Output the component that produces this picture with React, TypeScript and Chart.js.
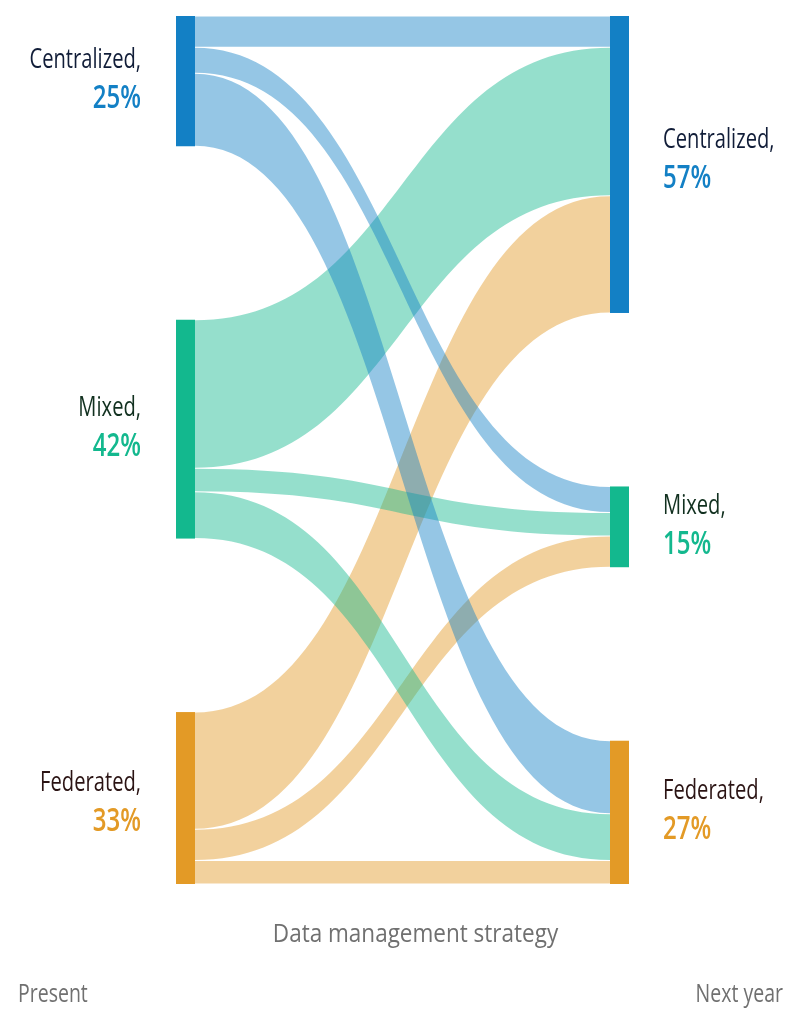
import { useEffect, useRef } from 'react';
import { Chart, registerables } from 'chart.js';

Chart.register(...registerables);

// Nodes (same order on both sides)
const categories = ['Centralized', 'Mixed', 'Federated'];
const presentShare = [25, 42, 33];
const nextYearShare = [57, 15, 27];

// Flows: rows = present category, columns = next-year category (% of respondents)
const fromCentralized = [6, 5, 14];
const fromMixed = [28.5, 4.5, 9];
const fromFederated = [22.5, 6, 4.5];
const flows = [fromCentralized, fromMixed, fromFederated];

const nodeColors = ['#1380c5', '#13b88e', '#e39a26'];
const nameColors = ['#111d38', '#11301f', '#2b1414'];

const axisTitle = 'Data management strategy';
const leftTitle = 'Present';
const rightTitle = 'Next year';

const GAP = 33.3; // vertical gap between nodes, in value units
const NODE_W = 19;
const FONT = '"Open Sans", "Noto Sans", sans-serif';
// small vertical nudges of the labels (px)
const leftNudge = [0, 0, 6];
const rightNudge = [-3, 0, 0];

const sum = (a: number[]) => a.reduce((s, v) => s + v, 0);

function nodeStarts(heights: number[]) {
  const out: number[] = [];
  let y = 0;
  heights.forEach(h => {
    out.push(y);
    y += h + GAP;
  });
  return out;
}

// condensed look: no narrow font installed, so squeeze horizontally
function squeezed(
  ctx: CanvasRenderingContext2D,
  text: string,
  x: number,
  y: number,
  align: CanvasTextAlign,
  font: string,
  color: string,
  sx: number
) {
  ctx.save();
  ctx.font = font;
  ctx.fillStyle = color;
  ctx.textAlign = align;
  ctx.textBaseline = 'alphabetic';
  ctx.translate(x, y);
  ctx.scale(sx, 1);
  ctx.fillText(text, 0, 0);
  ctx.restore();
}

const sankeyPlugin = {
  id: 'sankey',
  afterDatasetsDraw(chart: Chart) {
    const { ctx } = chart;
    const xs = chart.scales.x;
    const ys = chart.scales.y;
    const n = categories.length;

    const leftH = flows.map(r => sum(r));
    const rightH = categories.map((_, j) => sum(flows.map(r => r[j])));
    const leftY = nodeStarts(leftH);
    const rightY = nodeStarts(rightH);

    const xL = xs.getPixelForValue(0);
    const xR = xs.getPixelForValue(1);
    const x0 = xL + NODE_W;
    const x1 = xR - NODE_W;
    const xm = (x0 + x1) / 2;

    // offsets of each flow inside its nodes
    const outOff: number[][] = [];
    const inOff: number[][] = [];
    for (let i = 0; i < n; i++) {
      outOff.push([]);
      inOff.push([]);
      let o = leftY[i];
      for (let j = 0; j < n; j++) {
        outOff[i].push(o);
        o += flows[i][j];
      }
    }
    for (let j = 0; j < n; j++) {
      let o = rightY[j];
      for (let i = 0; i < n; i++) {
        inOff[i][j] = o;
        o += flows[i][j];
      }
    }

    ctx.save();
    // flows: last source first so blue ends on top
    for (let i = n - 1; i >= 0; i--) {
      for (let j = 0; j < n; j++) {
        const v = flows[i][j];
        const a0 = ys.getPixelForValue(outOff[i][j]) + 0.5;
        const a1 = ys.getPixelForValue(outOff[i][j] + v) - 0.5;
        const b0 = ys.getPixelForValue(inOff[i][j]) + 0.5;
        const b1 = ys.getPixelForValue(inOff[i][j] + v) - 0.5;
        ctx.beginPath();
        ctx.moveTo(x0, a0);
        ctx.bezierCurveTo(xm, a0, xm, b0, x1, b0);
        ctx.lineTo(x1, b1);
        ctx.bezierCurveTo(xm, b1, xm, a1, x0, a1);
        ctx.closePath();
        ctx.globalAlpha = 0.45;
        ctx.fillStyle = nodeColors[i];
        ctx.fill();
      }
    }
    ctx.globalAlpha = 1;

    // nodes
    for (let i = 0; i < n; i++) {
      ctx.fillStyle = nodeColors[i];
      const t = ys.getPixelForValue(leftY[i]);
      const b = ys.getPixelForValue(leftY[i] + leftH[i]);
      ctx.fillRect(xL, t, NODE_W, b - t);
      const t2 = ys.getPixelForValue(rightY[i]);
      const b2 = ys.getPixelForValue(rightY[i] + rightH[i]);
      ctx.fillRect(x1, t2, NODE_W, b2 - t2);
    }
    ctx.restore();

    // labels
    const nameFont = `28px ${FONT}`;
    const pctFont = `600 32px ${FONT}`;
    for (let i = 0; i < n; i++) {
      const cl = (ys.getPixelForValue(leftY[i]) + ys.getPixelForValue(leftY[i] + leftH[i])) / 2 + leftNudge[i];
      const cr = (ys.getPixelForValue(rightY[i]) + ys.getPixelForValue(rightY[i] + rightH[i])) / 2 + rightNudge[i];
      squeezed(ctx, categories[i] + ',', xL - 35, cl - 13, 'right', nameFont, nameColors[i], 0.72);
      squeezed(ctx, presentShare[i] + '%', xL - 35, cl + 27, 'right', pctFont, nodeColors[i], 0.75);
      squeezed(ctx, categories[i] + ',', xR + 34, cr - 13, 'left', nameFont, nameColors[i], 0.72);
      squeezed(ctx, nextYearShare[i] + '%', xR + 34, cr + 27, 'left', pctFont, nodeColors[i], 0.75);
    }

    // titles
    const yBottom = ys.getPixelForValue(ys.max);
    const grayFont = `25px ${FONT}`;
    squeezed(ctx, axisTitle, (xL + xR) / 2 + 13, yBottom + 58, 'center', grayFont, '#707070', 0.9);
    squeezed(ctx, leftTitle, 18, yBottom + 118, 'left', grayFont, '#707070', 0.78);
    squeezed(ctx, rightTitle, chart.width - 17, yBottom + 118, 'right', grayFont, '#707070', 0.78);
  },
};

export default function App() {
  const canvasRef = useRef<HTMLCanvasElement | null>(null);
  const chartRef = useRef<Chart | null>(null);

  useEffect(() => {
    if (!canvasRef.current) return;
    if (chartRef.current) chartRef.current.destroy();

    const yMax = sum(presentShare) + GAP * (categories.length - 1);

    chartRef.current = new Chart(canvasRef.current, {
      type: 'scatter',
      data: { datasets: [{ data: [] }] },
      options: {
        animation: false,
        responsive: true,
        maintainAspectRatio: false,
        layout: { padding: { left: 176, right: 171, top: 16, bottom: 144 } },
        plugins: { legend: { display: false }, tooltip: { enabled: false } },
        scales: {
          x: { type: 'linear', min: 0, max: 1, display: false },
          y: { type: 'linear', min: 0, max: yMax, reverse: true, display: false },
        },
      },
      plugins: [sankeyPlugin],
    });

    return () => {
      if (chartRef.current) {
        chartRef.current.destroy();
        chartRef.current = null;
      }
    };
  }, []);

  return (
    <div style={{ position: 'fixed', left: 0, top: 0, width: '800px', height: '1028px', background: '#fff' }}>
      <canvas ref={canvasRef} aria-label="Data management strategy sankey chart" />
    </div>
  );
}
